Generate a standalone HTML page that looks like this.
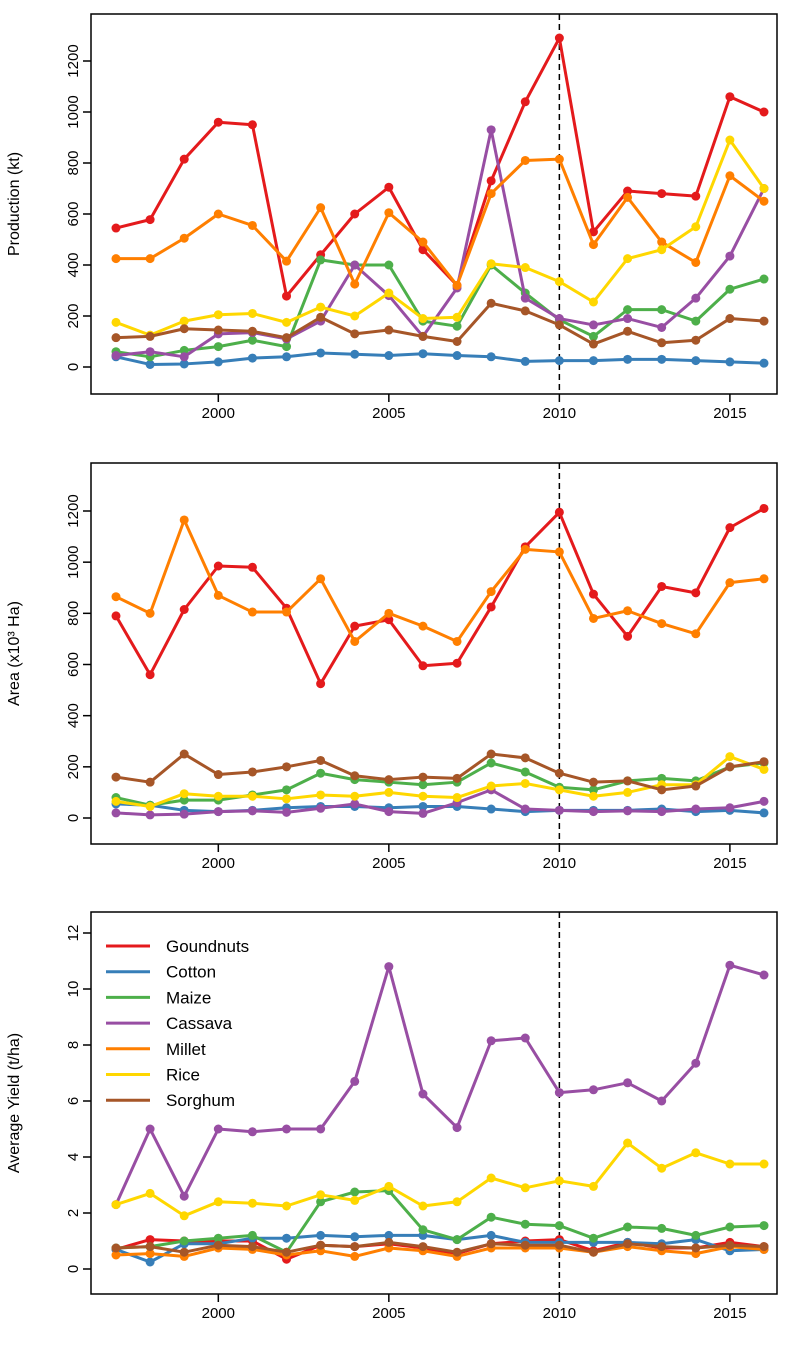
<!DOCTYPE html>
<html><head><meta charset="utf-8"><style>
body{margin:0;background:#fff;}
svg{display:block;font-family:"Liberation Sans",sans-serif;}
</style></head><body>
<svg id="chart" width="811" height="1350" viewBox="0 0 811 1350" xmlns="http://www.w3.org/2000/svg"></svg>
<script>
const years = [1997,1998,1999,2000,2001,2002,2003,2004,2005,2006,2007,2008,2009,2010,2011,2012,2013,2014,2015,2016];
const seriesNames = ["Goundnuts","Cotton","Maize","Cassava","Millet","Rice","Sorghum"];
const seriesKeys = ["groundnuts","cotton","maize","cassava","millet","rice","sorghum"];
const colors = ["#e41a1c","#377eb8","#4daf4a","#984ea3","#ff7f00","#ffd700","#a65628"];
const xTicks = [2000,2005,2010,2015];

const prodGroundnuts = [545,578,815,960,950,278,440,600,705,460,320,730,1040,1290,530,690,680,670,1060,1000];
const prodCotton = [40,10,12,20,35,40,55,50,45,52,45,40,22,25,25,30,30,25,20,15];
const prodMaize = [60,40,65,80,105,80,420,400,400,180,160,400,290,185,120,225,225,180,305,345];
const prodCassava = [45,60,40,130,135,110,180,400,280,120,310,930,270,190,165,190,155,270,435,700];
const prodMillet = [425,425,505,600,555,415,625,325,605,490,320,680,810,815,480,665,490,410,750,650];
const prodRice = [175,125,180,205,210,175,235,200,290,190,195,405,390,335,255,425,460,550,890,700];
const prodSorghum = [115,120,150,145,140,115,195,130,145,120,100,250,220,165,90,140,95,105,190,180];
const prodTicks = [0,200,400,600,800,1000,1200];

const areaGroundnuts = [790,560,815,985,980,820,525,750,775,595,605,825,1060,1195,875,710,905,880,1135,1210];
const areaCotton = [55,50,30,25,30,40,45,45,40,45,45,35,25,30,30,30,35,25,30,20];
const areaMaize = [80,50,70,70,90,110,175,150,140,130,140,215,180,120,110,145,155,145,200,215];
const areaCassava = [20,12,15,25,28,22,38,55,25,18,60,110,35,30,25,28,25,35,40,65];
const areaMillet = [865,800,1165,870,805,805,935,690,800,750,690,885,1050,1040,780,810,760,720,920,935];
const areaRice = [65,45,95,85,85,75,90,85,100,85,80,125,135,110,85,100,130,130,240,190];
const areaSorghum = [160,140,250,170,180,200,225,165,150,160,155,250,235,175,140,145,110,125,200,220];
const areaTicks = [0,200,400,600,800,1000,1200];

const yieldGroundnuts = [0.7,1.05,1.0,1.0,1.0,0.35,0.85,0.8,0.9,0.75,0.55,0.9,1.0,1.05,0.65,0.95,0.75,0.75,0.95,0.8];
const yieldCotton = [0.7,0.25,0.9,0.9,1.1,1.1,1.2,1.15,1.2,1.2,1.05,1.2,0.95,0.95,0.95,0.95,0.9,1.05,0.65,0.7];
const yieldMaize = [0.75,0.8,1.0,1.1,1.2,0.6,2.4,2.75,2.8,1.4,1.05,1.85,1.6,1.55,1.1,1.5,1.45,1.2,1.5,1.55];
const yieldCassava = [2.3,5.0,2.6,5.0,4.9,5.0,5.0,6.7,10.8,6.25,5.05,8.15,8.25,6.3,6.4,6.65,6.0,7.35,10.85,10.5];
const yieldMillet = [0.5,0.55,0.45,0.75,0.7,0.5,0.65,0.45,0.75,0.65,0.45,0.75,0.75,0.75,0.6,0.8,0.65,0.55,0.8,0.7];
const yieldRice = [2.3,2.7,1.9,2.4,2.35,2.25,2.65,2.45,2.95,2.25,2.4,3.25,2.9,3.15,2.95,4.5,3.6,4.15,3.75,3.75];
const yieldSorghum = [0.75,0.8,0.6,0.85,0.8,0.6,0.85,0.8,0.95,0.8,0.6,0.9,0.85,0.85,0.6,0.9,0.8,0.75,0.85,0.8];
const yieldTicks = [0,2,4,6,8,10,12];

const NS="http://www.w3.org/2000/svg";
const svg=document.getElementById('chart');
function mk(tag,attrs,parent){const e=document.createElementNS(NS,tag);for(const k in attrs)e.setAttribute(k,attrs[k]);(parent||svg).appendChild(e);return e;}
const x=(yr)=>116+(yr-1997)*(764-116)/19;

const panels=[
 {key:"production",title:"Production (kt)",top:14,bottom:394,y0:367,perUnit:(367-61)/1200,ticks:prodTicks,data:[prodGroundnuts,prodCotton,prodMaize,prodCassava,prodMillet,prodRice,prodSorghum]},
 {key:"area",title:"Area (x10\u00b3 Ha)",top:463,bottom:844,y0:818,perUnit:(818-511)/1200,ticks:areaTicks,data:[areaGroundnuts,areaCotton,areaMaize,areaCassava,areaMillet,areaRice,areaSorghum]},
 {key:"yield",title:"Average Yield (t/ha)",top:912,bottom:1294,y0:1269,perUnit:28,ticks:yieldTicks,data:[yieldGroundnuts,yieldCotton,yieldMaize,yieldCassava,yieldMillet,yieldRice,yieldSorghum]}
];

panels.forEach(p=>{
 const g=mk('g',{});
 
 
 const y=(v)=>p.y0-v*p.perUnit;
 // dashed 2010
 const d=mk('line',{x1:x(2010),x2:x(2010),y1:p.top,y2:p.bottom,stroke:'#000','stroke-width':1.5,'stroke-dasharray':'6,4'},g);
 
 
 // series
 p.data.forEach((arr,i)=>{
  const sg=mk('g',{},g);
  
  
  const pts=arr.map((v,j)=>x(years[j])+','+y(v)).join(' ');
  mk('polyline',{points:pts,fill:'none',stroke:colors[i],'stroke-width':3,'stroke-linejoin':'round'},sg);
  arr.forEach((v,j)=>{
   const c=mk('circle',{cx:x(years[j]),cy:y(v),r:4.5,fill:colors[i]},sg);
   
   
  });
 });
 // box
 const b=mk('rect',{x:91,y:p.top,width:686,height:p.bottom-p.top,fill:'none',stroke:'#000','stroke-width':1.5},g);
 
 
 // x ticks
 xTicks.forEach(t=>{
  mk('line',{x1:x(t),x2:x(t),y1:p.bottom,y2:p.bottom+8,stroke:'#000','stroke-width':1.5},g);
  const tx=mk('text',{x:x(t),y:p.bottom+24,'text-anchor':'middle','font-size':15},g);
  tx.textContent=t;
  
  
 });
 // y ticks
 p.ticks.forEach(t=>{
  mk('line',{x1:83,x2:91,y1:y(t),y2:y(t),stroke:'#000','stroke-width':1.5},g);
  const tx=mk('text',{x:0,y:0,'text-anchor':'middle','font-size':15,transform:'translate(78,'+y(t)+') rotate(-90)'},g);
  tx.textContent=t;
  
  
 });
 const yc=(p.top+p.bottom)/2;
 const tt=mk('text',{x:0,y:0,'text-anchor':'middle','font-size':16,transform:'translate(19,'+yc+') rotate(-90)'},g);
 tt.textContent=p.title;
 
 
});

// legend
const lg=mk('g',{});


seriesNames.forEach((n,i)=>{
 const yy=946+i*25.7;
 const e=mk('g',{},lg);
 
 
 mk('line',{x1:106,x2:150,y1:yy,y2:yy,stroke:colors[i],'stroke-width':3},e);
 const t=mk('text',{x:166,y:yy+6,'font-size':17},e);
 t.textContent=n;
});
</script>
</body></html>
